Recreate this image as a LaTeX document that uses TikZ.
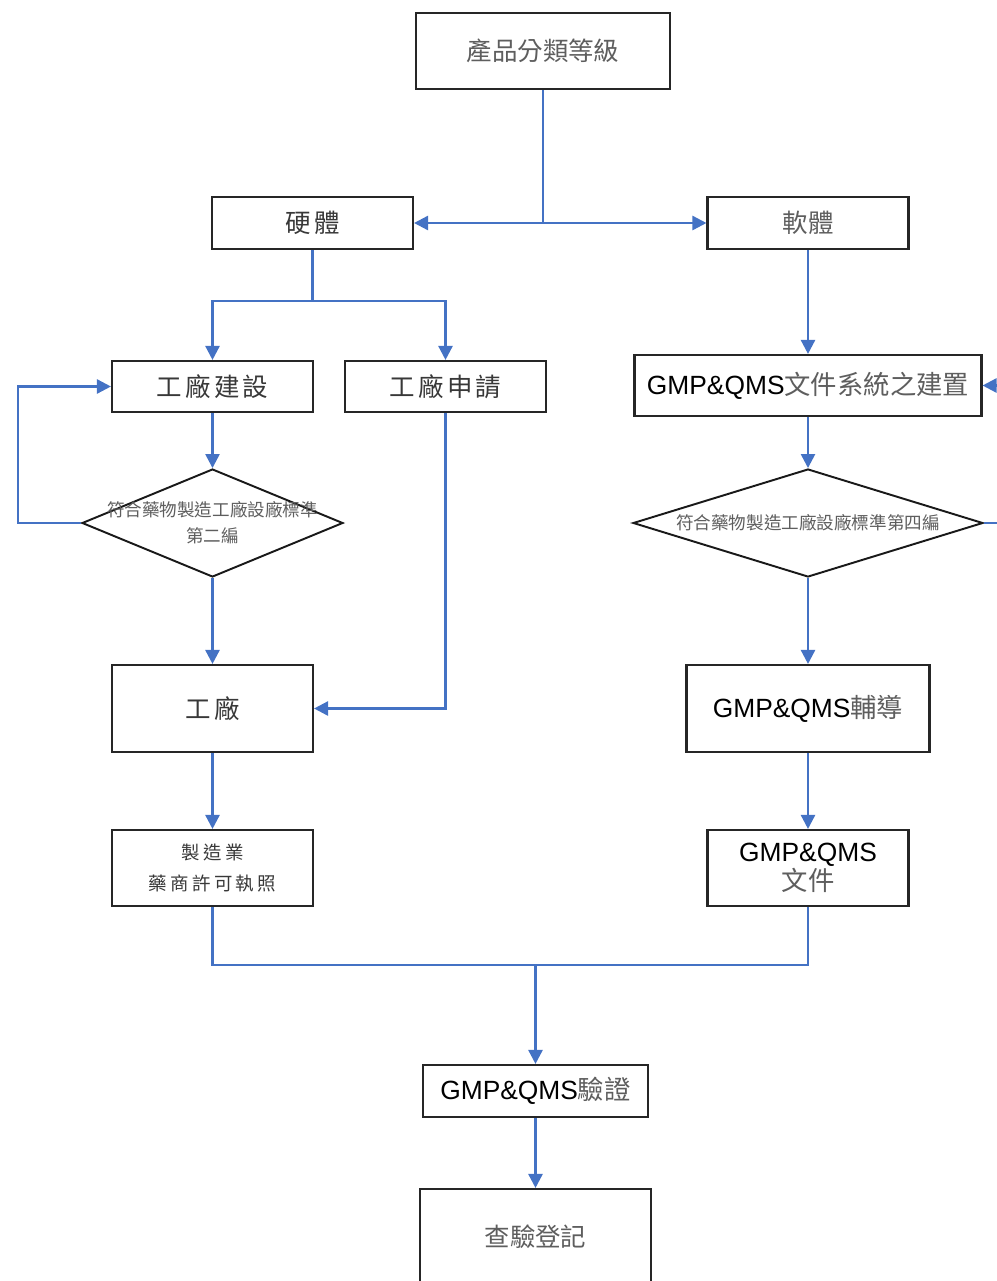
\documentclass[tikz,border=0pt]{standalone}
\usepackage{fontspec}
\setmainfont{Liberation Sans}
\newfontfamily\cjk{Noto Sans CJK TC}
\newfontfamily\cjkk[LetterSpace=12]{Noto Sans CJK TC}
\newfontfamily\cjkw[LetterSpace=18]{Noto Sans CJK TC}
\usetikzlibrary{arrows.meta,shapes.geometric}
\definecolor{flowblue}{HTML}{4472C4}
\definecolor{zhgray}{HTML}{5E5E5E}
\definecolor{zhdark}{HTML}{383838}
\newcommand\zh[1]{{\cjk\color{zhgray}#1}}
\newcommand\zk[1]{{\cjkk\color{zhdark}#1}}
\newcommand\gq{GMP\&QMS}
\begin{document}
\begin{tikzpicture}[x=0.02cm,y=-0.02cm,
  box/.style={draw=black!85, line width=1.2pt, fill=white, inner sep=0pt, align=center},
  decision/.style={draw=black!90, line width=1.1pt, fill=white, diamond, inner sep=0pt},
  link/.style={draw=flowblue, line width=1.4pt},
  arrow/.style={link, -{Triangle[length=0.28cm,width=0.28cm]}},
  zhfont/.style={font=\fontsize{14.5}{17}\selectfont},
  mixfont/.style={font=\fontsize{15}{18}\selectfont},
  smallzh/.style={font=\fontsize{10}{14.7}\selectfont\cjk\color{zhgray}, align=center}]
\useasboundingbox (0,0) rectangle (997,1281);
\clip (0,0) rectangle (997,1281);

% top level
\node[box, zhfont, minimum width=5.08cm, minimum height=1.52cm] (top) at (543,51) {\zh{產品分類等級}};
\node[box, zhfont, minimum width=4.02cm, minimum height=1.04cm] (hw) at (312.5,223) {\zk{硬體}};
\node[box, zhfont, minimum width=4.02cm, minimum height=1.04cm] (sw) at (808,223) {\zh{軟體}};

% hardware branch
\node[box, zhfont, minimum width=4.02cm, minimum height=1.02cm] (build) at (212.5,386.5) {\zk{工廠建設}};
\node[box, zhfont, minimum width=4.02cm, minimum height=1.02cm] (apply) at (445.5,386.5) {\zk{工廠申請}};
\node[decision, minimum width=5.22cm, minimum height=2.16cm,
      label={[smallzh]center:符合藥物製造工廠設廠標準\\第二編}] (dL) at (212.5,523) {};
\node[box, zhfont, minimum width=4.02cm, minimum height=1.74cm] (factory) at (212.5,708.5) {\zk{工廠}};
\node[box, minimum width=4.02cm, minimum height=1.52cm,
      font=\fontsize{10.5}{17.6}\selectfont\cjkw\color{zhdark}] (license) at (212.5,868) {製造業\\藥商許可執照};

% software branch
\node[box, mixfont, minimum width=6.94cm, minimum height=1.22cm] (docsys) at (808,385.5) {\gq\zh{文件系統之建置}};
\node[decision, minimum width=7.0cm, minimum height=2.16cm,
      label={[smallzh]center:符合藥物製造工廠設廠標準第四編}] (dR) at (808,523) {};
\node[box, mixfont, minimum width=4.86cm, minimum height=1.74cm] (coach) at (808,708.5) {\gq\zh{輔導}};
\node[box, minimum width=4.02cm, minimum height=1.52cm,
      font=\fontsize{15}{12.5}\selectfont] (docs) at (808,868) {\gq\\\zh{文件}};

% verification
\node[box, mixfont, minimum width=4.5cm, minimum height=1.04cm] (verify) at (535.5,1091) {\gq\zh{驗證}};
\node[box, zhfont, minimum width=4.62cm, minimum height=1.92cm] (register) at (535.5,1237) {\zh{查驗登記}};

% connectors
\coordinate (s1) at (543,223);
\draw[link] (top.south) -- (s1);
\draw[arrow] (s1) -- (hw.east);
\draw[arrow] (s1) -- (sw.west);

\coordinate (s2) at (312.5,301);
\draw[link] (hw.south) -- (s2);
\draw[arrow] (s2) -| (build.north);
\draw[arrow] (s2) -| (apply.north);

\draw[arrow] (build.south) -- (dL.north);
\coordinate (ll) at (18,523);
\draw[arrow] (dL.west) -- (ll) |- (build.west);
\draw[arrow] (dL.south) -- (factory.north);
\draw[arrow] (apply.south) |- (factory.east);
\draw[arrow] (factory.south) -- (license.north);

\draw[arrow] (sw.south) -- (docsys.north);
\draw[arrow] (docsys.south) -- (dR.north);
\coordinate (rl) at (1020,523);
\draw[arrow] (dR.east) -- (rl) |- (docsys.east);
\draw[arrow] (dR.south) -- (coach.north);
\draw[arrow] (coach.south) -- (docs.north);

\coordinate (mL) at (212.5,965);
\coordinate (mR) at (808,965);
\coordinate (m) at (535.5,965);
\draw[link] (license.south) -- (mL) -- (mR) -- (docs.south);
\draw[arrow] (m) -- (verify.north);
\draw[arrow] (verify.south) -- (register.north);
\end{tikzpicture}
\end{document}
